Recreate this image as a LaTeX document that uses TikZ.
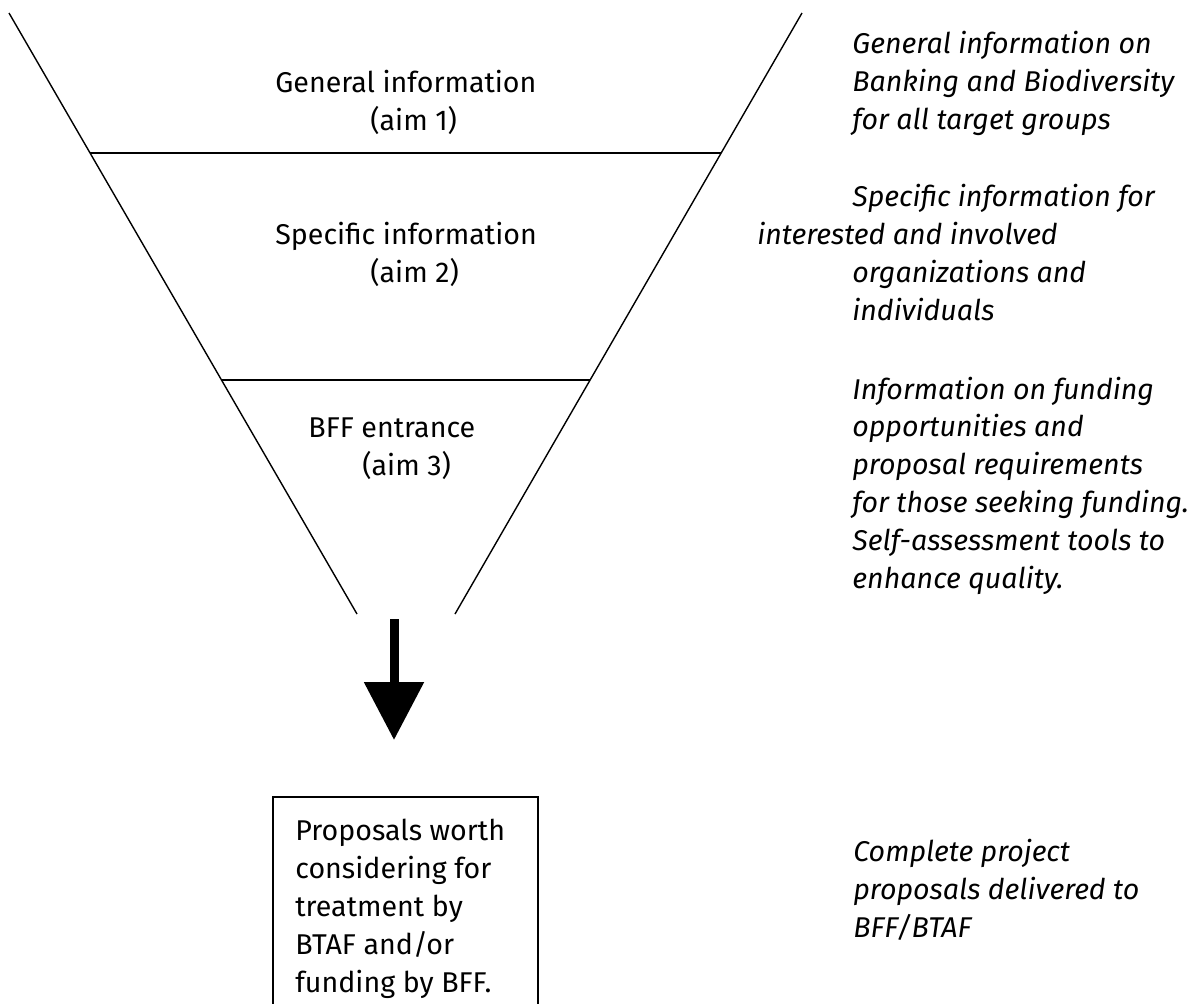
\documentclass[tikz,border=0pt]{standalone}
\usepackage{fontspec}
\setmainfont{Fira Sans}[Numbers=Lining]
\usetikzlibrary{arrows.meta}

\tikzset{
  lbl/.style={anchor=base west,inner sep=0pt,align=left,
    font=\fontsize{14.3}{18.9}\selectfont},
  note/.style={lbl,font=\fontsize{14.3}{18.9}\selectfont\itshape},
  funnel/.style={line width=0.7pt},
}
\newcommand{\ind}[1]{\hspace*{#1}}

\begin{document}
\begin{tikzpicture}[x=0.5pt,y=-0.5pt,>=Stealth]

\useasboundingbox (0,0) rectangle (1196,1003);
\clip (0,0) rectangle (1196,1003);

% funnel
\coordinate (lt) at (9,13);
\coordinate (lb) at (357,614);
\coordinate (rt) at (802,13);
\coordinate (rb) at (455,614);
\draw[funnel] (lt) -- (lb);
\draw[funnel] (rt) -- (rb);
\draw[funnel] (intersection of lt--lb and 0,153--1196,153) -- (intersection of rt--rb and 0,153--1196,153);
\draw[funnel] (intersection of lt--lb and 0,380--1196,380) -- (intersection of rt--rb and 0,380--1196,380);

% levels (placed by the baseline of the last line)
\node[lbl] (aim1) at (275,130) {General information\\ \ind{47.5pt}(aim 1)};
\node[lbl] (aim2) at (275,282) {Specific information\\ \ind{47.5pt}(aim 2)};
\node[lbl] (aim3) at (308,475) {BFF entrance\\ \ind{27pt}(aim 3)};

% arrow
\coordinate (arrtop) at (394,619);
\coordinate (arrtip) at (394,740);
\draw[line width=4.5pt,-{Triangle[width=29pt,length=29pt]}] (arrtop) -- (arrtip);

% result box
\draw[line width=0.6pt] (273,797) rectangle (538,1020);
\node[lbl] (prop) at (295,992) {Proposals worth\\ considering for\\ treatment by\\ BTAF and/or\\ funding by BFF.};

% notes
\node[note] (n1) at (852,129) {General information on\\ Banking and Biodiversity\\ for all target groups};
\node[note] (n2) at (757,320) {\ind{47.5pt}Specific information for\\ interested and involved\\ \ind{47.5pt}organizations and\\ \ind{47.5pt}individuals};
\node[note] (n3) at (852,588) {Information on funding\\ opportunities and\\ proposal requirements\\ for those seeking funding.\\ Self-assessment tools to\\ enhance quality.};
\node[note] (n4) at (853,937) {Complete project\\ proposals delivered to\\ BFF/BTAF};

\end{tikzpicture}
\end{document}
